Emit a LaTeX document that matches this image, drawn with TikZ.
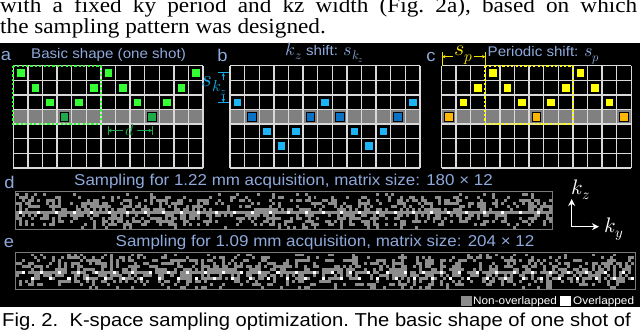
\documentclass[tikz,border=0pt]{standalone}
\usepackage{fontspec}
\usepackage{unicode-math}
\setmainfont{Liberation Serif}[FakeStretch=1.08]
\setsansfont{Liberation Sans}[FakeStretch=1.08]
\usetikzlibrary{arrows.meta}
\definecolor{lblue}{HTML}{8EA9DB}
\definecolor{gbright}{HTML}{33FF33}
\definecolor{gdark}{HTML}{1FAA4A}
\definecolor{bbright}{HTML}{1CB4F4}
\definecolor{bdark}{HTML}{0A72C4}
\definecolor{ybright}{HTML}{FFFF00}
\definecolor{yorange}{HTML}{FFB800}
\definecolor{rowgray}{HTML}{808080}
\definecolor{gridc}{HTML}{D9D9D9}
\definecolor{patgray}{HTML}{8C8C8C}
\definecolor{framegray}{HTML}{7A7A7A}
\definecolor{skzblue}{HTML}{1AA8E8}
\definecolor{spyellow}{HTML}{F2E200}
\newcommand\kgrid[1]{%
  \fill[rowgray] (#1,109.5) rectangle ++(189.8,14.6);
  \foreach \i in {0,...,13} \draw[gridline] ({#1+\i*14.6},65.7) -- ++(0,102.2);
  \foreach \j in {0,...,7} \draw[gridline] (#1,{65.7+\j*14.6}) -- ++(189.8,0);
}
\newcommand\ksq[4]{\filldraw[fill=#4,draw=black,line width=0.5] ({#1+(#2-1)*14.6+3},{65.7+(#3-1)*14.6+3}) rectangle ++(8.6,8.6);}
\newcommand\kmath[1]{{\fontsize{18}{18}\selectfont$#1$}}
\begin{document}
\begin{tikzpicture}[x=1pt,y=-1pt,
  gridline/.style={gridc,line width=1.4,line cap=square},
  lbl/.style={lblue,font=\sffamily\fontsize{17}{17}\selectfont,inner sep=0},
  ttl/.style={lblue,font=\sffamily\fontsize{14}{16}\selectfont,inner sep=0},
  smp/.style={lblue,font=\sffamily\fontsize{15.7}{18}\selectfont,inner sep=0},
  tip/.style={-{Stealth[length=3.5pt,width=3.5pt]}},
  bigtip/.style={-{Stealth[length=7pt,width=7pt]}}]
\useasboundingbox (0,0) rectangle (640,334);
\fill[white] (0,0) rectangle (640,334);
\fill[black] (0,43.5) rectangle (640,306.8);
% top text
\node[anchor=base west,inner sep=0,font=\rmfamily\fontsize{21.5}{21}\selectfont] (t1) at (0,13) {\frenchspacing\makebox[637pt][s]{with a fixed ky period and kz width (Fig. 2a), based on which}};
\node[anchor=base west,inner sep=0,font=\rmfamily\fontsize{21.5}{21}\selectfont] (t2) at (0,33.5) {the sampling pattern was designed.};
% caption
\node[anchor=base west,inner sep=0,font=\sffamily\fontsize{18.7}{20}\selectfont] (cap) at (2,326) {\frenchspacing Fig. 2.\ \ K-space sampling optimization. The basic shape of one shot of};
% grids
\kgrid{13.3}
\kgrid{230}
\kgrid{441.5}
\foreach \c/\r in {1/1,7/1,13/1,2/2,6/2,8/2,12/2,3/3,5/3,9/3,11/3} \ksq{13.3}{\c}{\r}{gbright};
\foreach \c/\r in {4/4,10/4} \ksq{13.3}{\c}{\r}{gdark};
\foreach \c/\r in {1/3,7/3,13/3,3/5,5/5,9/5,11/5,4/6,10/6} \ksq{230}{\c}{\r}{bbright};
\foreach \c/\r in {2/4,6/4,8/4,12/4} \ksq{230}{\c}{\r}{bdark};
\foreach \c/\r in {4/1,10/1,3/2,5/2,9/2,11/2,2/3,6/3,8/3,12/3} \ksq{441.5}{\c}{\r}{ybright};
\foreach \c/\r in {1/4,7/4,13/4} \ksq{441.5}{\c}{\r}{yorange};
% dotted boxes
\draw[gbright,line width=2.2,dash pattern=on 2.2pt off 2.2pt] (13.3,65.7) rectangle (100.9,124.1);
\draw[ybright,line width=2.2,dash pattern=on 2.2pt off 2.2pt] (485.3,65.7) rectangle (572.9,124.1);
% panel labels and titles
\node[lbl] (la) at (6,56) {a};
\node[ttl] (ta) at (108.5,55) {Basic shape (one shot)};
\node[lbl] (lb) at (222.5,55) {b};
\node[ttl] (tb) at (325,53) {\kmath{k_z} shift: \kmath{s_{k_z}}};
\node[lbl] (lc) at (431,57) {c};
\node[ttl,anchor=west] (tc) at (487.5,55) {Periodic shift: \kmath{s_p}};
% d dimension in a
\node[gdark,font=\fontsize{16}{16}\selectfont,inner sep=1] (dl) at (130,130) {$d$};
\coordinate (dL) at (108.2,130.5);
\coordinate (dR) at (152,130.5);
\draw[gdark,line width=1] (108.2,126) -- (108.2,135) (152,126) -- (152,135);
\draw[gdark,line width=1,tip] (dl.west |- dL) ++(-1,0) -- (dL);
\draw[gdark,line width=1,tip] (dl.east |- dR) ++(1,0) -- (dR);
% s_kz in b
\node[skzblue,font=\fontsize{23}{23}\selectfont,inner sep=0] (skz) at (214.5,86) {$s_{k_z}$};
\coordinate (skzT) at (223.3,73);
\coordinate (skzB) at (223.3,102.2);
\coordinate (skzT0) at (223.3,80);
\coordinate (skzB0) at (223.3,95);
\draw[skzblue,line width=1] (218,73) -- (229,73) (218,102.2) -- (229,102.2);
\draw[skzblue,line width=1,tip] (skzT0) -- (skzT);
\draw[skzblue,line width=1,tip] (skzB0) -- (skzB);
% s_p in c
\node[spyellow,font=\fontsize{22}{22}\selectfont,inner sep=0] (sp) at (463.5,55) {$s_p$};
\coordinate (spL) at (442,56.7);
\coordinate (spR) at (485.5,56.7);
\draw[spyellow,line width=1] (442,52.5) -- (442,66) (485.5,52.5) -- (485.5,66);
\draw[spyellow,line width=1,tip] (sp.west |- spL) ++(-1,0) -- (spL);
\draw[spyellow,line width=1,tip] (sp.east |- spR) ++(1,0) -- (spR);
% d and e labels
\node[lbl] (ld) at (9.5,182) {d};
\node[smp] (sd) at (283.5,181.5) {Sampling for 1.22 mm acquisition, matrix size: 180 × 12};
\node[lbl] (le) at (9,243) {e};
\node[smp] (se) at (325,242.5) {Sampling for 1.09 mm acquisition, matrix size: 204 × 12};
% pattern d
\pgfmathsetseed{2024}
\foreach \r/\pr in {0/0.12,1/0.28,2/0.35,3/0.42,4/0.45,5/0.5,6/1.01,7/0.5,8/0.42,9/0.35,10/0.28,11/0.14}{
  \foreach \c in {0,...,179}{
    \pgfmathtruncatemacro\wh{(\r==6)*(mod(\c,6)==1)}
    \pgfmathtruncatemacro\hit{max(\wh,rnd<\pr)}
    \ifnum\hit=1
      \ifnum\wh=1 \def\pc{white}\else\def\pc{patgray}\fi
      \fill[\pc] ({16+\c*2.975},{192.5+\r*3.05}) rectangle ++(2.975,3.05);
    \fi
  }
}
\draw[framegray,line width=1] (15,191.7) rectangle (552,229.5);
% pattern e
\foreach \r/\pr in {0/0.14,1/0.28,2/0.36,3/0.42,4/0.45,5/0.5,6/0.75,7/0.5,8/0.42,9/0.35,10/0.28,11/0.14}{
  \foreach \c in {0,...,203}{
    \pgfmathtruncatemacro\wh{(\r==6)*(mod(\c,6)==2)+(\r==8)*(mod(\c,6)==5)}
    \pgfmathtruncatemacro\hit{max(\wh,rnd<\pr)}
    \ifnum\hit=1
      \ifnum\wh=1 \def\pc{white}\else\def\pc{patgray}\fi
      \fill[\pc] ({16+\c*3.029},{253.5+\r*2.93}) rectangle ++(3.029,2.93);
    \fi
  }
}
\draw[framegray,line width=1] (15,252.7) rectangle (635,289.5);
% axes
\coordinate (ao) at (571.7,226.7);
\coordinate (az) at (571.7,199);
\coordinate (ay) at (599,226.7);
\draw[white,line width=1.5,bigtip] (ao) -- (az);
\draw[white,line width=1.5,bigtip] (ao) -- (ay);
\node[white,font=\fontsize{21}{21}\selectfont,inner sep=0] (kz) at (581,190) {$k_z$};
\node[white,font=\fontsize{21}{21}\selectfont,inner sep=0] (ky) at (614,229) {$k_y$};
% legend
\fill[patgray] (460.5,296) rectangle (471.5,306);
\node[white,anchor=west,inner sep=0,font=\sffamily\fontsize{10.9}{12}\selectfont] (ln) at (473,301.3) {Non-overlapped};
\fill[white] (559.5,296) rectangle (570.5,306);
\node[white,anchor=west,inner sep=0,font=\sffamily\fontsize{10.9}{12}\selectfont] (lo) at (573,301.3) {Overlapped};
\end{tikzpicture}
\end{document}
